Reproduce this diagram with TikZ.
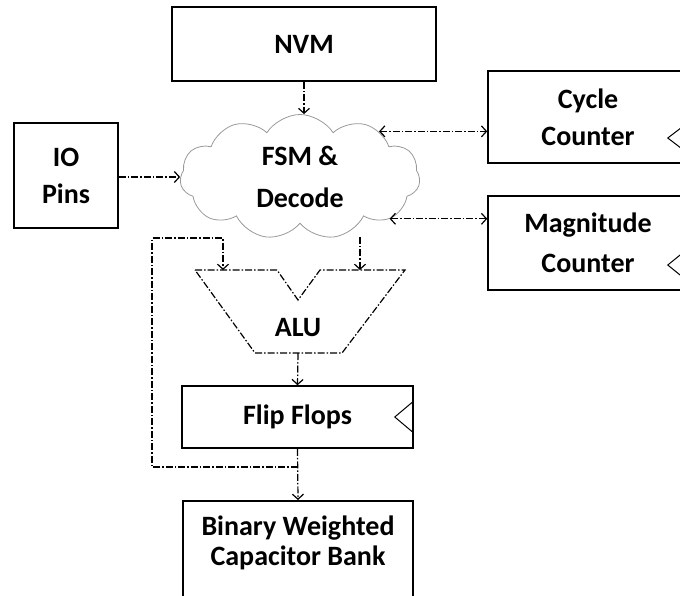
\documentclass[tikz,border=0pt]{standalone}
\usepackage{fontspec}
\setmainfont{Carlito}
\usetikzlibrary{shapes.symbols,arrows.meta}

\tikzset{
  block/.style={draw, line width=1.5pt, inner sep=0pt, align=center,
    font=\fontsize{28}{37}\selectfont\bfseries},
  link/.style={line width=1.2pt, dash pattern=on 7pt off 2pt on 1.5pt off 2pt,
    -{Straight Barb[length=5pt,width=11pt]}},
  both/.style={{Straight Barb[length=5pt,width=11pt]}-{Straight Barb[length=5pt,width=11pt]}},
  clk/.style={line width=1pt},
}

\begin{document}
\begin{tikzpicture}[x=1pt,y=-1pt]
  \clip (0,0) rectangle (680,595);

  % blocks
  \node[block, minimum width=264pt, minimum height=74pt] (nvm) at (304,44) {NVM};
  \node[block, minimum width=104pt, minimum height=105pt] (io) at (66,175.5) {IO\\Pins};
  \node[block, minimum width=200pt, minimum height=92pt] (cyc) at (588,117) {Cycle\\Counter};
  \node[block, minimum width=200pt, minimum height=94pt,
    font=\fontsize{28}{40}\selectfont\bfseries] (mag) at (588,243) {Magnitude\\Counter};
  \node[cloud, cloud puffs=11, cloud puff arc=115, aspect=2, draw=gray!80,
    line width=0.8pt, minimum width=240pt, minimum height=125pt, inner sep=0pt,
    align=center, font=\fontsize{28}{42}\selectfont\bfseries] (fsm) at (300,177) {FSM \&\\Decode};
  \node[block, minimum width=231pt, minimum height=62pt] (ff) at (297.5,417) {Flip Flops};
  \node[block, anchor=north, minimum width=230pt, minimum height=0pt, inner ysep=15pt,
    text depth=60pt, font=\fontsize{28}{30}\selectfont\bfseries] (bank) at (298,500)
    {Binary Weighted\\Capacitor Bank};

  % alu
  \draw[line width=1.2pt, dash pattern=on 7pt off 2pt on 1.5pt off 2pt]
    (195,270) -- (277,270) -- (298,300) -- (320,270) -- (405,270)
    -- (342,353) -- (255,353) -- cycle;
  \node[font=\fontsize{28}{30}\selectfont\bfseries] (alu) at (298,328) {ALU};
  \coordinate (inA) at (223,270);
  \coordinate (inB) at (360,270);
  \coordinate (aluout) at (298,353);
  \coordinate (tap) at (297.5,467);
  \coordinate (fbtop) at (152,238);

  % clocks
  \draw[clk] (ff.east) ++(0,-16) -- ++(-19,16) -- ++(19,16);
  \draw[clk] (cyc.east) ++(0,5) -- ++(-21,16) -- ++(21,16);
  \draw[clk] (mag.east) ++(0,5) -- ++(-21,17) -- ++(21,17);

  % links
  \draw[link] (nvm.south) -- (nvm.south |- fsm.north);
  \draw[link] (io.east |- fsm.west) -- (fsm.west);
  \draw[link, both] (fsm.30) -- (fsm.30 -| cyc.west);
  \draw[link, both] (fsm.-25) -- (fsm.-25 -| mag.west);
  \draw[link] (inB |- fsm.-58) -- (inB);
  \draw[link] (aluout) -- (ff.north);
  \draw[link] (ff.south) -- (bank.north);
  \draw[link] (tap) -| (fbtop) -| (inA);
\end{tikzpicture}
\end{document}
